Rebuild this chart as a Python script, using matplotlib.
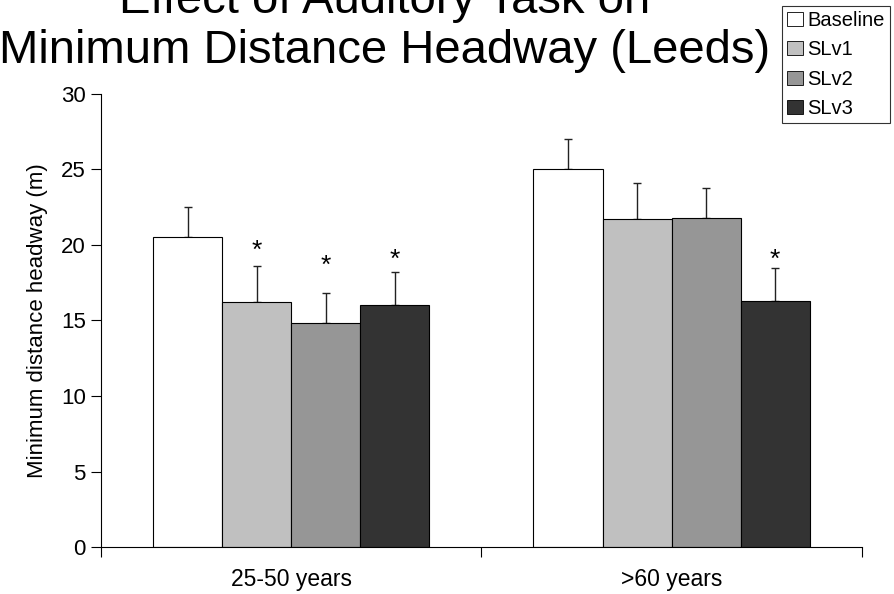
import numpy as np
import matplotlib.pyplot as plt
from matplotlib.patches import Patch

plt.rcParams['font.family'] = ['Liberation Sans', 'DejaVu Sans']

# data
groups = ['25-50 years', '>60 years']
series = ['Baseline', 'SLv1', 'SLv2', 'SLv3']
baseline = [20.5, 25.0]
slv1 = [16.2, 21.7]
slv2 = [14.8, 21.8]
slv3 = [16.0, 16.3]
baseline_err = [2.0, 2.0]
slv1_err = [2.4, 2.4]
slv2_err = [2.0, 2.0]
slv3_err = [2.2, 2.2]
# height of the significance asterisks (None = no star)
baseline_star = [None, None]
slv1_star = [19.6, None]
slv2_star = [18.6, None]
slv3_star = [19.0, 19.0]

values = [baseline, slv1, slv2, slv3]
errors = [baseline_err, slv1_err, slv2_err, slv3_err]
stars = [baseline_star, slv1_star, slv2_star, slv3_star]
colors = ['#ffffff', '#c0c0c0', '#969696', '#333333']

fig = plt.figure(figsize=(8.94, 5.94), dpi=100)
ax = fig.add_axes([0.113, 0.079, 0.851, 0.763])

x = np.arange(len(groups))
width = 0.1816
for i, (vals, errs, st) in enumerate(zip(values, errors, stars)):
    pos = x + (i - 1.5) * width
    ax.bar(pos, vals, width, color=colors[i], edgecolor='black', linewidth=0.8, zorder=2)
    ax.errorbar(pos, vals, yerr=[np.zeros(len(errs)), errs], fmt='none',
                ecolor='#222222', elinewidth=1, capsize=3, capthick=1, zorder=1)
    for p, s in zip(pos, st):
        if s is not None:
            ax.text(p, s, '*', ha='center', va='center', fontsize=19)

ax.set_xlim(-0.5, 1.5)
ax.set_ylim(0, 30)
ax.set_yticks(range(0, 31, 5))
ax.set_xticks([-0.5, 0.5, 1.5])
ax.set_xticklabels([])
ax.set_xticks(x, minor=True)
ax.set_xticklabels(groups, minor=True, fontsize=16.5)
ax.tick_params(axis='x', which='minor', length=0, pad=15)
ax.tick_params(axis='x', which='major', length=7, width=0.8)
ax.tick_params(axis='y', length=7, width=0.8, labelsize=16, pad=4)
ax.set_ylabel('Minimum distance headway (m)', fontsize=16, labelpad=9)
for s in ['top', 'right']:
    ax.spines[s].set_visible(False)
for s in ['left', 'bottom']:
    ax.spines[s].set_linewidth(0.8)

# title sits partly above the figure edge, as in the original
fig.text(0.43, 1 - 13 / 594, 'Effect of Auditory Task on',
         ha='center', va='baseline', fontsize=34)
fig.text(0.43, 1 - 63 / 594, 'Minimum Distance Headway (Leeds)',
         ha='center', va='baseline', fontsize=34)

handles = [Patch(facecolor=c, edgecolor='black', linewidth=0.6) for c in colors]
leg = fig.legend(handles, series, loc='upper right', bbox_to_anchor=(0.9955, 0.99),
                 fontsize=14.5, handlelength=0.75, handleheight=0.7, handletextpad=0.25,
                 labelspacing=0.52, borderpad=0.25, borderaxespad=0, fancybox=False,
                 frameon=True)
leg.get_frame().set_edgecolor('black')
leg.get_frame().set_linewidth(0.8)

fig.savefig('out.png', dpi=100)
